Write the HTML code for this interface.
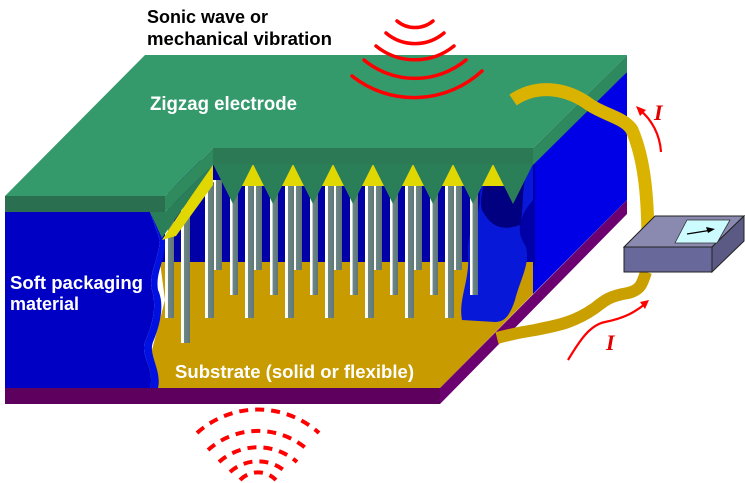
<!DOCTYPE html>
<html><head><meta charset="utf-8"><style>html,body{margin:0;padding:0;background:#fff}svg{display:block}</style></head>
<body>
<svg width="745" height="483" viewBox="0 0 745 483" xmlns="http://www.w3.org/2000/svg">
<defs>
<linearGradient id="pg" x1="0" x2="1" y1="0" y2="0">
<stop offset="0" stop-color="#ffffff"/><stop offset="0.3" stop-color="#ffffff"/><stop offset="0.35" stop-color="#6e8686"/><stop offset="1" stop-color="#5f7777"/>
</linearGradient>
</defs>
<polygon points="533,160 627,72 627,200 533,294" fill="#0000e6"/>
<rect x="160" y="160" width="375" height="105" fill="#0000a6"/>
<polygon points="160,262 533,262 533,294 440,388 140,388 152,350 165,300" fill="#c89b00"/>
<polygon points="5,388 440,388 440,404 5,404" fill="#5e005e"/>
<polygon points="440,388 627,200 627,214 440,404" fill="#6c0070"/>
<path d="M485,165 L533,165 L533,200 C520,215 515,230 525,245 C532,260 520,280 515,300 C510,315 505,322 495,322 L462,320 C458,300 470,280 468,255 C466,230 482,215 480,195 Z" fill="#0818d8"/>
<path d="M485,165 L530,165 C520,185 525,205 520,225 C500,232 490,225 482,210 C478,195 488,180 485,165 Z" fill="#000080"/>
<g>
<rect x="213" y="180" width="9" height="90" fill="url(#pg)"/><rect x="253" y="180" width="9" height="90" fill="url(#pg)"/><rect x="293" y="180" width="9" height="90" fill="url(#pg)"/><rect x="333" y="180" width="9" height="90" fill="url(#pg)"/><rect x="373" y="180" width="9" height="90" fill="url(#pg)"/><rect x="413" y="180" width="9" height="90" fill="url(#pg)"/><rect x="453" y="180" width="9" height="90" fill="url(#pg)"/>
</g>
<g>
<rect x="230" y="190" width="8" height="105" fill="url(#pg)"/><rect x="270" y="190" width="8" height="105" fill="url(#pg)"/><rect x="310" y="190" width="8" height="105" fill="url(#pg)"/><rect x="350" y="190" width="8" height="105" fill="url(#pg)"/><rect x="390" y="190" width="8" height="105" fill="url(#pg)"/><rect x="430" y="190" width="8" height="105" fill="url(#pg)"/><rect x="470" y="190" width="8" height="105" fill="url(#pg)"/>
</g>
<g>
<rect x="165" y="183" width="9" height="135" fill="url(#pg)"/><rect x="205" y="183" width="9" height="135" fill="url(#pg)"/><rect x="245" y="183" width="9" height="135" fill="url(#pg)"/><rect x="285" y="183" width="9" height="135" fill="url(#pg)"/><rect x="325" y="183" width="9" height="135" fill="url(#pg)"/><rect x="365" y="183" width="9" height="135" fill="url(#pg)"/><rect x="405" y="183" width="9" height="135" fill="url(#pg)"/><rect x="445" y="183" width="9" height="135" fill="url(#pg)"/>
<ellipse cx="209.5" cy="183" rx="4.5" ry="2" fill="#4e6464"/><ellipse cx="249.5" cy="183" rx="4.5" ry="2" fill="#4e6464"/><ellipse cx="289.5" cy="183" rx="4.5" ry="2" fill="#4e6464"/><ellipse cx="329.5" cy="183" rx="4.5" ry="2" fill="#4e6464"/><ellipse cx="369.5" cy="183" rx="4.5" ry="2" fill="#4e6464"/><ellipse cx="409.5" cy="183" rx="4.5" ry="2" fill="#4e6464"/><ellipse cx="449.5" cy="183" rx="4.5" ry="2" fill="#4e6464"/>
</g>
<rect x="181" y="207" width="9" height="136" fill="url(#pg)"/><ellipse cx="185.5" cy="207" rx="4.5" ry="2" fill="#4e6464"/>
<path d="M5,212 L150,212 L160,240 C158,262 148,275 152,290 C158,310 150,330 145,342 C140,355 155,370 150,388 L5,388 Z" fill="#0000c4"/>
<path d="M150,212 L160,240 C158,262 148,275 152,290 C158,310 150,330 145,342 C140,355 155,370 150,388 L158,388 C162,370 148,355 153,342 C160,325 165,305 158,290 C155,272 166,260 165,240 Z" fill="#0010e0"/>
<g fill="#e0d800">
<polygon points="241,186 253,163 265,186"/><polygon points="281,186 293,163 305,186"/><polygon points="321,186 333,163 345,186"/><polygon points="361,186 373,163 385,186"/><polygon points="401,186 413,163 425,186"/><polygon points="441,186 453,163 465,186"/><polygon points="481,186 493,163 505,186"/>
<polygon points="162,240 213,163 213,185 176,236"/>
</g>
<rect x="213" y="148" width="320" height="17" fill="#2b7a55"/>
<g fill="#2b7f58">
<polygon points="213,164 253,164 233,204"/><polygon points="253,164 293,164 273,204"/><polygon points="293,164 333,164 313,204"/><polygon points="333,164 373,164 353,204"/><polygon points="373,164 413,164 393,204"/><polygon points="413,164 453,164 433,204"/><polygon points="453,164 493,164 473,204"/><polygon points="493,164 533,164 513,204"/>
</g>
<polygon points="5,196 145,55 627,55 533,148 213,148 165,196" fill="#359a6b"/>
<rect x="5" y="196" width="160" height="16" fill="#2a7050"/>
<polygon points="533,148 627,55 627,72 533,165" fill="#2e8a5e"/>
<polygon points="165,196 213,148 213,165 165,212" fill="#2f8a5e"/>
<polygon points="150,212 165,212 213,165 162,238" fill="#2b7f58"/>
<path d="M513,100 C540,82 570,90 590,105 C605,115 625,118 632,130 C645,160 648,200 648,245" fill="none" stroke="#dab200" stroke-width="13"/>
<path d="M646,272 C642,285 640,290 628,293 C610,296 605,300 595,308 C575,322 560,325 535,330 C515,333 505,336 497,338" fill="none" stroke="#c9a000" stroke-width="12"/>
<polygon points="624,247 655,216 744,216 712,247" fill="#8a8ab0" stroke="#222" stroke-width="1"/>
<rect x="624" y="247" width="88" height="25" fill="#68689a" stroke="#222" stroke-width="1"/>
<polygon points="712,247 744,216 744,241 712,272" fill="#5a5a85" stroke="#222" stroke-width="1"/>
<polygon points="675,243 687,220 730,220 717,243" fill="#ccfcff" stroke="#333" stroke-width="0.8"/>
<line x1="687" y1="234" x2="712" y2="230" stroke="#000" stroke-width="1.2"/><polygon points="715,229 706,227 708,233" fill="#000"/>
<path d="M661,152 C660,135 652,120 640,110" fill="none" stroke="#f00" stroke-width="2.2"/><polygon points="636,106 646,110 640,116" fill="#f00"/>
<path d="M568,360 C580,340 590,325 605,322 C625,318 635,312 645,304" fill="none" stroke="#f00" stroke-width="2.2"/><polygon points="649,300 640,302 645,309" fill="#f00"/>
<text x="654" y="120" font-family="Liberation Serif, serif" font-style="italic" font-weight="bold" font-size="22" fill="#e00000">I</text>
<text x="606" y="350" font-family="Liberation Serif, serif" font-style="italic" font-weight="bold" font-size="22" fill="#e00000">I</text>
<g fill="none" stroke="#f00" stroke-width="3.5" stroke-linecap="round">
<path d="M397,21 A28,28 0 0 0 433,21"/>
<path d="M386,33 A45,45 0 0 0 444,33"/>
<path d="M376,46 A62,62 0 0 0 454,46"/>
<path d="M364,60 A80,80 0 0 0 466,60"/>
<path d="M352,76 A100,100 0 0 0 482,71"/>
</g>
<g fill="none" stroke="#f00" stroke-width="4" stroke-dasharray="9,7">
<path d="M197,433 A91,91 0 0 1 319,433"/>
<path d="M208,450 A75,75 0 0 1 308,450"/>
<path d="M219,462 A59,59 0 0 1 297,462"/>
<path d="M230,472 A42,42 0 0 1 286,472"/>
<path d="M240,480 A25,25 0 0 1 276,480"/>
</g>
<g font-family="Liberation Sans, sans-serif" font-weight="bold">
<text x="147" y="23" font-size="18" fill="#000">Sonic wave or</text>
<text x="147" y="45" font-size="18" fill="#000" textLength="185" lengthAdjust="spacingAndGlyphs">mechanical vibration</text>
<text x="150" y="110" font-size="19" fill="#fff" textLength="147" lengthAdjust="spacingAndGlyphs">Zigzag electrode</text>
<text x="10" y="289" font-size="18" fill="#fff" textLength="133" lengthAdjust="spacingAndGlyphs">Soft packaging</text>
<text x="10" y="310" font-size="18" fill="#fff">material</text>
<text x="175" y="378" font-size="18" fill="#fff" textLength="239" lengthAdjust="spacingAndGlyphs">Substrate (solid or flexible)</text>
</g>
</svg>
</body></html>
